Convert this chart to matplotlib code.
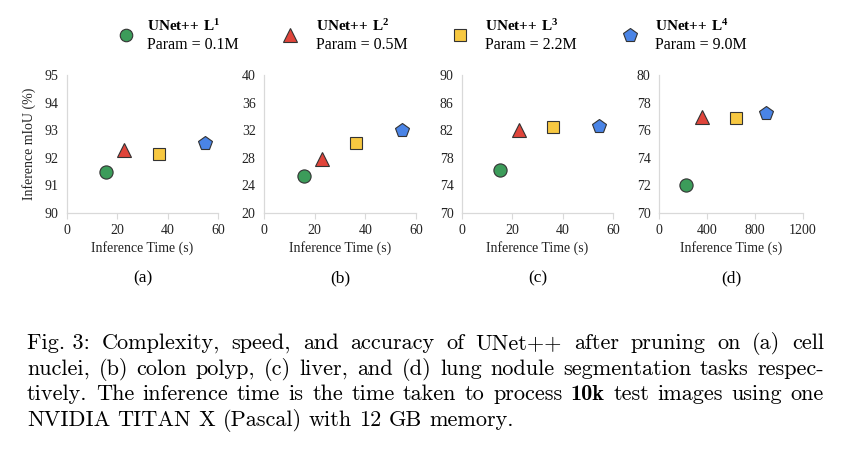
import matplotlib
matplotlib.use('Agg')
import matplotlib.pyplot as plt
from matplotlib.lines import Line2D

plt.rcParams['font.family'] = ['Liberation Serif', 'DejaVu Serif']
plt.rcParams['mathtext.fontset'] = 'custom'
plt.rcParams['mathtext.rm'] = 'Liberation Serif'
plt.rcParams['mathtext.bf'] = 'Liberation Serif:bold'

# ----------------------------- data -----------------------------
model_sup = ['1', '2', '3', '4']
params = ['0.1M', '0.5M', '2.2M', '9.0M']
markers = ['o', '^', 's', 'p']
colors = ['#3c9c5a', '#e0453b', '#f7c841', '#4a84e6']
msizes = [9.5, 10, 9, 10.5]

time_a = [15.5, 22.7, 36.4, 54.8]
miou_a = [91.47, 92.27, 92.14, 92.52]
time_b = [15.7, 22.8, 36.4, 54.5]
miou_b = [25.35, 27.8, 30.2, 32.1]
time_c = [15.1, 22.5, 36.2, 54.3]
miou_c = [76.27, 82.0, 82.5, 82.6]
time_d = [228, 358, 639, 889]
miou_d = [72.05, 76.99, 76.87, 77.23]

panels = [
    ('(a)', time_a, miou_a, (0, 60, 20), (90, 95, 1)),
    ('(b)', time_b, miou_b, (0, 60, 20), (20, 40, 4)),
    ('(c)', time_c, miou_c, (0, 60, 20), (70, 90, 4)),
    ('(d)', time_d, miou_d, (0, 1200, 400), (70, 80, 2)),
]

caption = [
    ('Fig. 3: Complexity, speed, and accuracy of UNet++ after pruning on (a) cell', True),
    ('nuclei, (b) colon polyp, (c) liver, and (d) lung nodule segmentation tasks respec-', True),
    ('tively. The inference time is the time taken to process 10k test images using one', True),
    ('NVIDIA TITAN X (Pascal) with 12 GB memory.', False),
]
bold_words = ['10k']

# ----------------------------- figure -----------------------------
W, H = 843, 450
fig = plt.figure(figsize=(W / 100, H / 100), dpi=100)

lefts = [67, 264, 462, 659]
widths = [151, 152, 151, 144]
top, bottom = 75, 213
grey = '#d9d9d9'

for i, (tag, t, m, xr, yr) in enumerate(panels):
    ax = fig.add_axes([lefts[i] / W, 1 - bottom / H, widths[i] / W, (bottom - top) / H])
    for j in range(4):
        ax.plot(t[j], m[j], marker=markers[j], ms=msizes[j], color=colors[j],
                mec='#333333', mew=0.8, ls='none', clip_on=False)
    ax.set_xlim(xr[0], xr[1])
    ax.set_ylim(yr[0], yr[1])
    ax.set_xticks(range(xr[0], xr[1] + 1, xr[2]))
    ax.set_yticks(range(yr[0], yr[1] + 1, yr[2]))
    for s in ['top', 'right']:
        ax.spines[s].set_visible(False)
    for s in ['left', 'bottom']:
        ax.spines[s].set_color(grey)
        ax.spines[s].set_linewidth(0.9)
    ax.tick_params(axis='y', length=0, pad=6, labelsize=10, labelcolor='#222222')
    ax.tick_params(axis='x', length=4, color=grey, direction='out', pad=4,
                   labelsize=10, labelcolor='#222222')
    ax.set_xlabel('Inference Time (s)', fontsize=10, labelpad=3, color='#222222')
    if i == 0:
        ax.set_ylabel('Inference mIoU (%)', fontsize=10, labelpad=6, color='#222222')
    fig.text((lefts[i] + widths[i] / 2) / W, 1 - 278 / H, tag, ha='center', va='center',
             fontsize=12.5)

# legend along the top
leg_x = [126, 290, 460, 630]
txt_x = [147, 316, 485, 655]
for j in range(4):
    fig.add_artist(Line2D([leg_x[j] / W], [1 - 35 / H], marker=markers[j], ms=msizes[j] - 0.5,
                          color=colors[j], mec='#333333', mew=0.8, ls='none',
                          transform=fig.transFigure))
    fig.text(txt_x[j] / W, 1 - 26 / H, r'$\mathbf{UNet{+}{+}\ L^{%s}}$' % model_sup[j],
             fontsize=11, va='center', ha='left')
    fig.text(txt_x[j] / W, 1 - 45 / H, 'Param = ' + params[j],
             fontsize=11.5, va='center', ha='left')

# caption, justified word by word
renderer = fig.canvas.get_renderer()
cap_left, cap_right = 27, 824
for k, (line, justify) in enumerate(caption):
    words = line.replace('Fig. 3:', 'Fig.\x003:').split(' ')
    words = [w.replace('\x00', ' ') for w in words]
    y = 1 - (349 + k * 25.7) / H
    texts = []
    for w in words:
        fam = 'cmb10' if w.rstrip('.,') in bold_words else 'cmr10'
        texts.append(fig.text(0, y, w, fontfamily=fam, fontsize=16, va='baseline'))
    ws = [tx.get_window_extent(renderer).width for tx in texts]
    if justify:
        gap = (cap_right - cap_left - sum(ws)) / (len(ws) - 1)
    else:
        gap = 7.3
    x = cap_left
    for tx, w in zip(texts, ws):
        tx.set_x(x / W)
        x += w + gap

fig.savefig('out.png', dpi=100)
